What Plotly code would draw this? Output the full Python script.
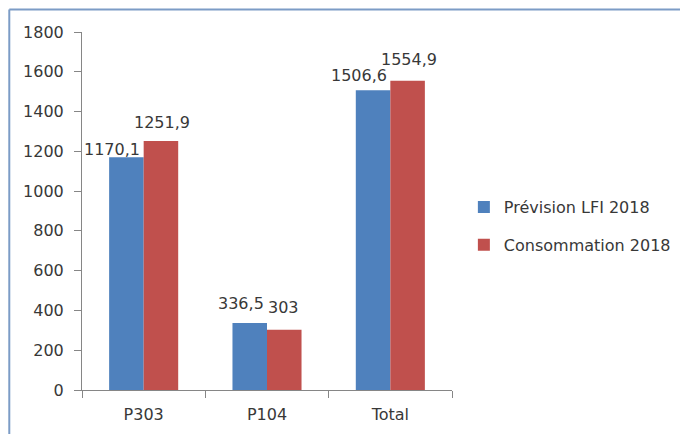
import plotly.graph_objects as go

categories = ["P303", "P104", "Total"]
prevision = [1170.1, 336.5, 1506.6]
consommation = [1251.9, 303, 1554.9]
prevision_labels = ["1170,1", "336,5", "1506,6"]
consommation_labels = ["1251,9", "303", "1554,9"]
y_ticks = [0, 200, 400, 600, 800, 1000, 1200, 1400, 1600, 1800]

# label nudges in px (x shift relative to bar center, y shift above bar top)
prev_nudge = [(-14, 8), (-9, 20), (-14, 15)]
cons_nudge = [(1, 19), (-1, 22), (1, 21)]

BLUE = "#4F81BD"
RED = "#C0504D"
TXT = "#383838"
FONT = "DejaVu Sans"
FS = 16

W, H = 680, 426
L, R, T, B = 74, 232, 24, 44
pw, ph = W - L - R, H - T - B

fig = go.Figure()
fig.add_trace(go.Bar(x=categories, y=prevision, name="Prévision LFI 2018",
                     marker=dict(color=BLUE, line=dict(width=0)), legendgroup="a"))
fig.add_trace(go.Bar(x=categories, y=consommation, name="Consommation 2018",
                     marker=dict(color=RED, line=dict(width=0)), legendgroup="b"))

cat_w = pw / len(categories)
bargap = 0.44
bar_w = cat_w * (1 - bargap) / 2

annotations = []
for i, c in enumerate(categories):
    dx, dy = prev_nudge[i]
    annotations.append(dict(x=c, y=prevision[i], text=prevision_labels[i], showarrow=False,
                            xref="x", yref="y", xanchor="center", yanchor="middle",
                            xshift=-bar_w / 2 + dx, yshift=dy,
                            font=dict(family=FONT, size=FS, color=TXT)))
    dx, dy = cons_nudge[i]
    annotations.append(dict(x=c, y=consommation[i], text=consommation_labels[i], showarrow=False,
                            xref="x", yref="y", xanchor="center", yanchor="middle",
                            xshift=bar_w / 2 + dx, yshift=dy,
                            font=dict(family=FONT, size=FS, color=TXT)))

def px_x(p):
    return (p - L) / pw

def px_y(p):
    return (H - B - p) / ph

shapes = [
    dict(type="line", xref="paper", yref="paper", x0=px_x(0.5), x1=px_x(700), y0=px_y(1.5), y1=px_y(1.5),
         line=dict(color="#7C9CC6", width=2)),
    dict(type="line", xref="paper", yref="paper", x0=px_x(0.5), x1=px_x(0.5), y0=px_y(1.5), y1=px_y(450),
         line=dict(color="#7C9CC6", width=2)),
]

fig.update_layout(
    width=W, height=H,
    margin=dict(l=L, r=R, t=T, b=B),
    paper_bgcolor="white", plot_bgcolor="white",
    barmode="group", bargap=bargap, bargroupgap=0,
    font=dict(family=FONT, size=FS, color=TXT),
    annotations=annotations,
    shapes=shapes,
    legend=dict(x=px_x(460), y=px_y(218), xanchor="left", yanchor="middle",
                traceorder="grouped", tracegroupgap=14,
                font=dict(family=FONT, size=FS, color=TXT)),
    xaxis=dict(showline=True, linecolor="#868686", linewidth=1, automargin=False,
               ticks="outside", tickson="boundaries", ticklen=7, tickcolor="#868686",
               ticklabelstandoff=10,
               showgrid=False, tickfont=dict(size=FS, color=TXT)),
    yaxis=dict(range=[0, 1800], tickvals=y_ticks, showline=True, linecolor="#868686", linewidth=1,
               automargin=False,
               ticks="outside", ticklen=7, tickcolor="#868686", showgrid=False, zeroline=False,
               ticklabelstandoff=7,
               tickfont=dict(size=FS, color=TXT)),
)

fig.write_html("out.html")
